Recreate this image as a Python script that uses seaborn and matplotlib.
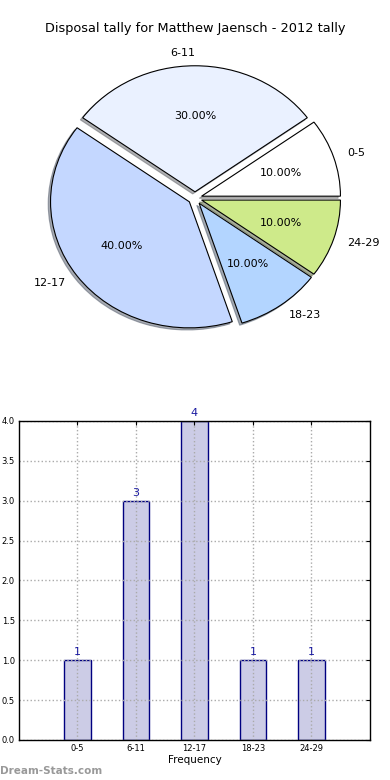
import seaborn as sns
import matplotlib.pyplot as plt
import pandas as pd

# Data
bins = ['0-5', '6-11', '12-17', '18-23', '24-29']
counts = [1, 3, 4, 1, 1]
pie_colors = ['#FFFFFF', '#EAF1FF', '#C4D7FF', '#B3D5FF', '#CEEA8A']
explode = [0.05, 0.05, 0.05, 0.05, 0.05]

sns.set_style('white')
plt.rcParams['font.family'] = ['DejaVu Sans']
plt.rcParams['text.color'] = 'black'
plt.rcParams['axes.labelcolor'] = 'black'
plt.rcParams['xtick.color'] = 'black'
plt.rcParams['ytick.color'] = 'black'

fig = plt.figure(figsize=(3.9, 7.8), dpi=100)

# Pie
ax1 = fig.add_axes([0.055, 0.544, 0.89, 0.404])
ax1.pie(counts, labels=bins, colors=pie_colors, explode=explode,
        autopct='%.2f%%', shadow={'ox': -0.012, 'oy': -0.012, 'shade': 0.6},
        startangle=0,
        wedgeprops={'edgecolor': 'black', 'linewidth': 0.8},
        textprops={'fontsize': 8, 'color': 'black'})
ax1.set_aspect('auto')
ax1.set_xlim(-1.25, 1.25)
ax1.set_ylim(-1.25, 1.25)
ax1.set_title('Disposal tally for Matthew Jaensch - 2012 tally', fontsize=9.3, pad=6)

# Bars
df = pd.DataFrame({'bin': bins, 'count': counts})
ax2 = fig.add_axes([0.0487, 0.0513, 0.9, 0.409])
sns.barplot(data=df, x='bin', y='count', ax=ax2, color='#CCCCE6',
            saturation=1, width=0.45, edgecolor='#000080', linewidth=1)
ax2.bar_label(ax2.containers[0], padding=2, color='#1a1aa0', fontsize=8)
ax2.set_xlim(-1, 5)
ax2.set_ylim(0, 4)
ax2.set_yticks([0, 0.5, 1, 1.5, 2, 2.5, 3, 3.5, 4])
ax2.set_yticklabels(['0.0', '0.5', '1.0', '1.5', '2.0', '2.5', '3.0', '3.5', '4.0'])
ax2.grid(True, linestyle=':', color='#AAAAAA', linewidth=1)
ax2.set_axisbelow(False)
for s in ax2.spines.values():
    s.set_color('black')
    s.set_linewidth(1)
    s.set_zorder(5)
ax2.tick_params(direction='in', labelsize=6, top=True, right=True,
                length=3, width=0.8, pad=3)
ax2.set_xlabel('Frequency', fontsize=7.5, labelpad=1)
ax2.set_ylabel('')

fig.text(0.0, 0.008, 'Dream-Stats.com', color='#999999', fontsize=7.5, fontweight='bold')

plt.savefig('out.png', dpi=100)
